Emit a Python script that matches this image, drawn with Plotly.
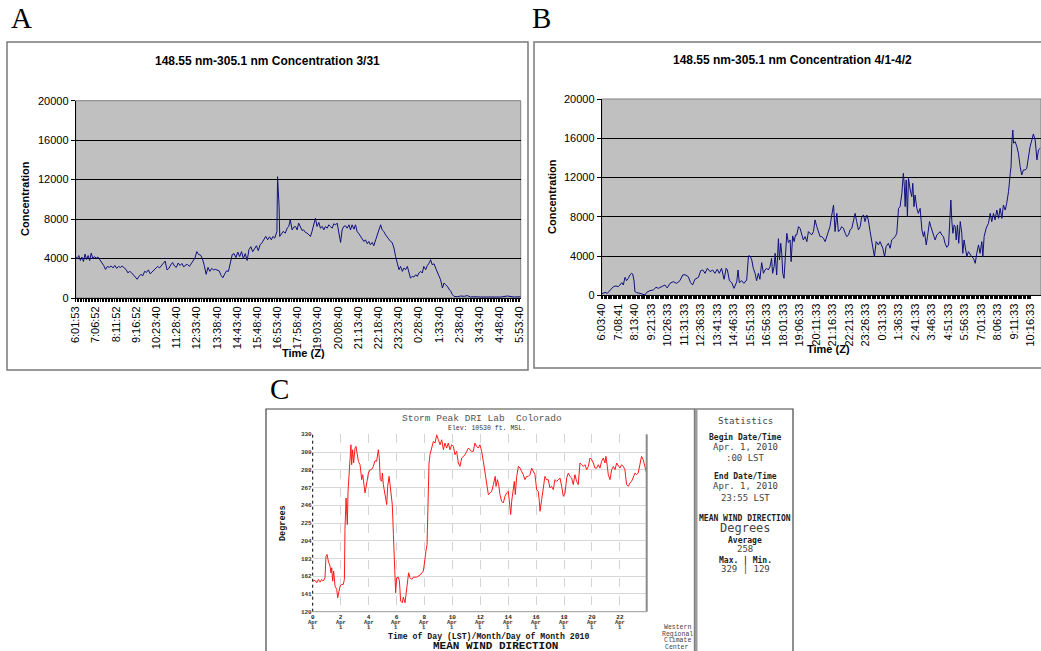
import plotly.graph_objects as go

W, H = 1041, 651
OFF = 0  # page margin is removed below, so figure pixels == window pixels

# ---------------- Panel A data (minutes after 6:01:53, concentration) ----------------
a_min = [0, 5, 10, 15, 20, 25, 30, 35, 40, 45, 50, 55, 60, 66, 72, 78, 84, 90, 96, 102, 108, 114, 120, 126,
         132, 138, 144, 150, 156, 162, 168, 174, 180, 186, 192, 198, 204, 210, 216, 222, 228, 234, 240, 246,
         252, 258, 264, 270, 276, 282, 288, 294, 300, 306, 312, 318, 324, 330, 336, 342, 348, 354, 360, 366,
         372, 378, 384, 390, 396, 402, 408, 414, 420, 426, 432, 438, 444, 450, 456, 462, 468, 474, 480, 486,
         492, 498, 504, 510, 516, 522, 528, 534, 540, 546, 552, 558, 564, 570, 576, 582, 588, 594, 600, 606,
         612, 618, 624, 630, 635, 641, 646, 648, 650, 653, 655, 657, 661, 668, 675, 681, 686, 691, 697, 702,
         708, 713, 718, 724, 729, 734, 740, 745, 751, 756, 761, 767, 772, 777, 783, 788, 794, 799, 804, 810,
         815, 820, 826, 831, 837, 842, 847, 853, 858, 863, 869, 874, 880, 885, 890, 896, 901, 906, 912, 917,
         923, 928, 933, 939, 944, 949, 955, 960, 966, 971, 976, 982, 987, 992, 998, 1003, 1009, 1014, 1019,
         1025, 1030, 1035, 1041, 1046, 1052, 1057, 1062, 1068, 1073, 1078, 1084, 1089, 1095, 1100, 1105, 1111,
         1116, 1121, 1127, 1132, 1138, 1143, 1148, 1154, 1159, 1164, 1170, 1175, 1181, 1186, 1191, 1197, 1202,
         1208, 1213, 1218, 1229, 1240, 1251, 1261, 1272, 1283, 1304, 1326, 1347, 1369, 1390, 1412, 1433]
a_val = [4200, 3950, 4300, 3800, 4150, 3700, 4450, 3900, 4300, 3800, 4550, 4000, 4200, 4050, 4150, 3900, 3550,
         3300, 2900, 3200, 3100, 3250, 3050, 3300, 3000, 3200, 3100, 3250, 3050, 2900, 2550, 2700, 2550, 2300,
         2100, 1900, 2200, 2400, 2250, 2700, 2600, 2850, 2450, 2650, 2800, 3100, 3200, 3050, 3300, 3600, 3750,
         2850, 3000, 3350, 3600, 3250, 3100, 3550, 3300, 3500, 3150, 3350, 3400, 3200, 3500, 3850, 4050, 4700,
         4400, 4350, 4000, 3300, 2400, 3100, 2700, 3000, 2850, 2900, 2800, 2750, 2300, 2050, 2450, 2750, 2700,
         3700, 4400, 4500, 4100, 4650, 4200, 4700, 4000, 4500, 3800, 4900, 5200, 4700, 5000, 5300, 4800, 5400,
         5600, 6000, 6250, 5900, 6200, 5900, 6240, 6070, 6580, 6750, 12300, 10960, 9280, 6240, 6400, 6750, 6580,
         7080, 7250, 7930, 6900, 7180, 7250, 6900, 7590, 7080, 6850, 6900, 6640, 6580, 6400, 6240, 6750, 7420,
         8100, 7250, 7660, 7080, 7250, 6900, 7250, 7080, 7420, 7250, 7080, 7520, 7420, 7590, 6750, 5630, 6900,
         7250, 7320, 7080, 7420, 6900, 7420, 6980, 7420, 6750, 6510, 6240, 5970, 5730, 5900, 5500, 5730, 5400,
         5630, 5300, 5900, 6400, 6750, 7420, 6900, 6750, 6400, 6170, 5900, 5730, 5630, 5060, 4220, 3710, 2870,
         3200, 2700, 3040, 2870, 3200, 2530, 2020, 2190, 2125, 2360, 2190, 2530, 2700, 2530, 3200, 2870, 3270,
         3540, 3880, 3370, 3470, 3040, 2700, 2360, 1850, 1010, 1520, 1350, 1180, 910, 670, 340, 170, 130, 200,
         170, 240, 100, 130, 100, 100, 170, 100, 200, 100, 130]
a_labels = ["6:01:53", "7:06:52", "8:11:52", "9:16:52", "10:23:40", "11:28:40", "12:33:40", "13:38:40",
            "14:43:40", "15:48:40", "16:53:40", "17:58:40", "19:03:40", "20:08:40", "21:13:40", "22:18:40",
            "23:23:40", "0:28:40", "1:33:40", "2:38:40", "3:43:40", "4:48:40", "5:53:40"]

# ---------------- Panel B data (minutes after 6:03:40, concentration) ----------------
b_min = [0, 13, 22, 33, 46, 56, 65, 72, 79, 85, 92, 98, 105, 111, 118, 122, 127, 131, 138, 151, 164, 170, 177,
         190, 203, 214, 223, 236, 249, 258, 269, 282, 295, 308, 319, 328, 341, 350, 358, 367, 381, 390, 398,
         407, 416, 427, 437, 446, 455, 463, 472, 482, 490, 495, 503, 512, 521, 532, 537, 542, 551, 560, 571,
         578, 584, 591, 597, 604, 610, 617, 623, 630, 637, 643, 650, 656, 663, 669, 673, 679, 683, 689, 692,
         696, 700, 705, 709, 713, 718, 722, 729, 735, 742, 746, 752, 758, 763, 768, 775, 781, 788, 794, 801,
         808, 814, 821, 827, 834, 840, 847, 854, 860, 867, 873, 880, 886, 893, 899, 906, 913, 919, 926, 932,
         939, 945, 952, 959, 965, 972, 978, 985, 991, 998, 1004, 1011, 1018, 1024, 1031, 1037, 1044, 1050,
         1057, 1064, 1070, 1074, 1081, 1090, 1096, 1107, 1114, 1120, 1129, 1136, 1142, 1149, 1156, 1162, 1169,
         1175, 1182, 1188, 1192, 1195, 1199, 1204, 1208, 1215, 1221, 1225, 1230, 1234, 1241, 1247, 1254, 1261,
         1267, 1271, 1278, 1283, 1291, 1296, 1304, 1313, 1320, 1326, 1333, 1339, 1346, 1352, 1359, 1366, 1370,
         1375, 1379, 1383, 1388, 1392, 1396, 1401, 1406, 1412, 1418, 1422, 1427, 1433, 1438, 1444, 1451, 1457,
         1464, 1471, 1477, 1484, 1490, 1497, 1501, 1506, 1514, 1523, 1530, 1536, 1543, 1549, 1556, 1563, 1569,
         1576, 1582, 1589, 1595, 1602, 1609, 1612, 1615, 1619, 1622, 1628, 1635, 1641, 1648, 1654, 1661, 1668,
         1674, 1681, 1687, 1694, 1700, 1707, 1711, 1714, 1720, 1727]
b_val = [150, 300, 200, 475, 880, 950, 880, 1050, 1290, 1050, 1830, 1490, 1730, 2070, 2240, 2170, 1560, 370, 270,
         200, 135, 35, 300, 475, 540, 815, 710, 880, 1050, 750, 1220, 1390, 1220, 1490, 2070, 2100, 1900, 1290,
         1050, 1630, 1830, 2510, 2580, 2240, 2750, 2410, 2580, 2240, 2650, 2240, 2750, 1630, 2750, 2580, 1490,
         1290, 710, 1390, 2580, 1290, 1490, 1220, 1560, 4010, 4010, 3600, 2750, 2240, 1490, 2240, 1630, 3330,
         2240, 2580, 2750, 2580, 2920, 3770, 2240, 2920, 4280, 2070, 4280, 5770, 3600, 5300, 4280, 2240, 1730,
         3600, 6320, 5370, 5640, 3430, 6050, 5470, 6150, 6150, 7000, 6830, 6150, 5640, 5980, 5470, 6490, 6320,
         6150, 6490, 7680, 7000, 6490, 5980, 5980, 5810, 5470, 5980, 6660, 7000, 8180, 9200, 6490, 8350, 6490,
         6660, 7000, 6830, 6320, 5980, 6150, 6660, 6830, 7510, 8350, 7510, 6660, 7000, 8010, 8180, 7510, 8180,
         7680, 6490, 5470, 4790, 3940, 5470, 5130, 5470, 4790, 3940, 4960, 5300, 4790, 5640, 5810, 5980, 6320,
         8860, 9030, 10390, 12430, 11070, 9030, 11750, 8010, 11920, 10730, 10050, 11410, 9030, 10220, 8860, 8350,
         8860, 6660, 5980, 6490, 5130, 5980, 7510, 7000, 6320, 5640, 6150, 6320, 6490, 6150, 5980, 5300, 4890,
         5130, 7000, 9710, 7510, 6320, 7170, 7000, 5640, 7170, 5300, 7510, 6320, 4280, 5640, 4450, 3940, 4450,
         4110, 3940, 3770, 3260, 4280, 5130, 4280, 5470, 3940, 5980, 6830, 7340, 8350, 7510, 8350, 7680, 8690,
         7840, 8860, 7840, 9200, 8690, 9370, 10560, 12430, 13110, 15490, 16840, 15490, 15660, 15150, 14470,
         13110, 12260, 12770, 12770, 12940, 14130, 15150, 15830, 16440, 15830, 14810, 13790, 14810, 14980]
b_labels = ["6:03:40", "7:08:41", "8:13:40", "9:21:33", "10:26:33", "11:31:33", "12:36:33", "13:41:33",
            "14:46:33", "15:51:33", "16:56:33", "18:01:33", "19:06:33", "20:11:33", "21:16:33", "22:21:33",
            "23:26:33", "0:31:33", "1:36:33", "2:41:33", "3:46:33", "4:51:33", "5:56:33", "7:01:33",
            "8:06:33", "9:11:33", "10:16:33"]

# ---------------- Panel C data (hour of day, wind direction in degrees) ----------------
c_hour = [0.00, 0.17, 0.29, 0.41, 0.53, 0.64, 0.76, 0.88, 0.95, 1.03, 1.12, 1.24, 1.31, 1.36, 1.43, 1.50, 1.60,
          1.72, 1.79, 1.86, 1.96, 2.07, 2.19, 2.27, 2.31, 2.39, 2.43, 2.48, 2.53, 2.60, 2.67, 2.74, 2.79, 2.86,
          2.93, 3.03, 3.10, 3.17, 3.27, 3.39, 3.51, 3.58, 3.65, 3.75, 3.87, 3.99, 4.11, 4.22, 4.34, 4.46, 4.58,
          4.70, 4.77, 4.84, 4.94, 4.99, 5.06, 5.13, 5.23, 5.30, 5.37, 5.47, 5.54, 5.61, 5.70, 5.78, 5.85, 5.89,
          5.94, 6.01, 6.13, 6.21, 6.30, 6.42, 6.49, 6.61, 6.71, 6.80, 6.87, 6.97, 7.09, 7.21, 7.45, 7.68, 7.92,
          7.99, 8.04, 8.11, 8.19, 8.26, 8.33, 8.40, 8.52, 8.64, 8.76, 8.88, 9.00, 9.12, 9.24, 9.36, 9.47, 9.59,
          9.71, 9.83, 9.95, 10.07, 10.19, 10.31, 10.43, 10.55, 10.67, 10.79, 10.91, 11.03, 11.15, 11.26, 11.38,
          11.50, 11.62, 11.74, 11.86, 11.98, 12.10, 12.22, 12.34, 12.46, 12.58, 12.70, 12.82, 12.94, 13.07,
          13.13, 13.23, 13.32, 13.41, 13.53, 13.65, 13.77, 13.89, 14.01, 14.08, 14.18, 14.25, 14.37, 14.44,
          14.51, 14.61, 14.73, 14.85, 14.96, 15.08, 15.20, 15.32, 15.44, 15.56, 15.68, 15.80, 15.92, 16.04,
          16.15, 16.23, 16.28, 16.40, 16.52, 16.63, 16.75, 16.87, 16.99, 17.11, 17.23, 17.35, 17.47, 17.59,
          17.71, 17.83, 17.95, 18.07, 18.19, 18.31, 18.42, 18.54, 18.66, 18.78, 18.90, 19.02, 19.14, 19.26,
          19.38, 19.50, 19.62, 19.74, 19.86, 19.98, 20.10, 20.21, 20.33, 20.45, 20.57, 20.69, 20.81, 20.93,
          21.00, 21.10, 21.17, 21.29, 21.41, 21.53, 21.65, 21.77, 21.89, 22.00, 22.12, 22.24, 22.36, 22.48,
          22.60, 22.72, 22.84, 22.96, 23.08, 23.19, 23.31, 23.43, 23.55, 23.67, 23.79, 23.91]
c_deg = [156.2, 157, 154.3, 158.2, 155, 158.2, 156.2, 160.2, 185.7, 187.7, 179.8, 173.9, 166, 172, 156.2, 168,
         150.3, 146.4, 136.5, 144.4, 150.3, 152.3, 152.3, 158.2, 217.2, 254.6, 238.9, 223.1, 262.5, 282.2, 303.9,
         317.6, 294, 311.7, 296, 313.7, 315.7, 305.8, 298, 294, 276.3, 282.2, 270.4, 260.6, 272.4, 284.2, 288.1,
         288.1, 292, 298.7, 298, 311.7, 301.9, 276.3, 274.3, 284.2, 270.4, 264.5, 254.6, 246.8, 268.4, 280.2,
         270.4, 258.6, 246.8, 211.3, 185.7, 168, 142.4, 160.2, 160.9, 156.2, 132.6, 130.6, 137.3, 130.6, 146.4,
         152.3, 166.1, 160.2, 158.2, 160.9, 160.9, 163.3, 168, 175.9, 187.7, 191.7, 199.5, 246.8, 296, 305.8,
         315.7, 321.6, 319.6, 329.4, 323.5, 317.6, 323.5, 311.7, 319.6, 313.7, 319.6, 311.7, 317.6, 315.7, 305.8,
         309.8, 296, 292, 301.9, 303.9, 305.8, 309.8, 313.7, 311.7, 309.8, 309.8, 319.6, 315.7, 313.7, 317.6,
         309.8, 298, 284.2, 266.5, 258.6, 260.6, 262.5, 270.4, 280.2, 268.4, 276.3, 270.4, 258.6, 250.7, 248.7,
         256.6, 260.6, 262.5, 252.7, 235, 250.7, 270.4, 274.3, 258.6, 280.2, 292, 290, 286.1, 282.2, 276.3,
         280.2, 280.2, 282.2, 290, 286.1, 282.2, 264.5, 262.5, 250.7, 238.9, 252.7, 268.4, 280.2, 276.3, 276.3,
         266.5, 268.4, 264.5, 276.3, 274.3, 276.3, 278.3, 268.4, 256.6, 260.6, 278.3, 284.2, 280.2, 278.3,
         270.4, 282.2, 274.3, 270.4, 296, 294, 292, 294, 288.1, 292, 301.9, 299.9, 296, 290, 290, 294, 290, 298,
         301.9, 296, 303.9, 292, 282.2, 276.3, 288.1, 292, 288.1, 296, 292, 290, 294, 292, 288.1, 270.4, 268.4,
         272.4, 274.3, 278.3, 284.2, 282.2, 284.2, 294, 303.9, 299.9, 292, 284.2]
c_tick_hours = [0, 2, 4, 6, 8, 10, 12, 14, 16, 18, 20, 22]
c_deg_ticks = [120, 141, 162, 183, 204, 225, 246, 267, 288, 309, 330]
conc_ticks = [0, 4000, 8000, 12000, 16000, 20000]
stats_lines = [("Statistics", False, 9.2), ("Begin Date/Time", True, 8), ("Apr. 1, 2010", False, 9),
               (":00 LST", False, 9), ("End Date/Time", True, 8), ("Apr. 1, 2010", False, 9),
               ("23:55 LST", False, 9), ("MEAN WIND DIRECTION", True, 8), ("Degrees", False, 12),
               ("Average", True, 8), ("258", False, 9), ("Max. | Min.", True, 8), ("329 | 129", False, 9)]
stats_y = [420, 437, 447, 458, 476, 486, 498, 518, 528, 540, 549, 560, 569]


def px(x):
    return (x - OFF) / W


def py(y):
    return 1 - (y - OFF) / H


SANS = "Liberation Sans"
MONO = "Liberation Mono"
SMONO = "DejaVu Sans Mono"

fig = go.Figure()
fig.add_trace(go.Scatter(x=a_min, y=a_val, mode="lines", line=dict(color="#10107f", width=1),
                         xaxis="x", yaxis="y", showlegend=False, hoverinfo="skip"))
fig.add_trace(go.Scatter(x=b_min, y=b_val, mode="lines", line=dict(color="#10107f", width=1),
                         xaxis="x2", yaxis="y2", showlegend=False, hoverinfo="skip"))
fig.add_trace(go.Scatter(x=c_hour, y=c_deg, mode="lines", line=dict(color="#ff1a1a", width=1),
                         xaxis="x3", yaxis="y3", showlegend=False, hoverinfo="skip"))


def dense_ticks(labels):
    vals, texts = [], []
    for i in range(len(labels) * 13 - 12):
        vals.append(i * 5)
        texts.append(labels[i // 13] if i % 13 == 0 else "")
    return vals, texts


a_tv, a_tt = dense_ticks(a_labels)
b_tv, b_tt = dense_ticks(b_labels)

xcommon = dict(tickmode="array", tickangle=-90, ticks="outside", ticklen=3, tickcolor="black", tickwidth=1,
               showgrid=False, zeroline=False, showline=True, linecolor="black", linewidth=1,
               automargin=False, tickfont=dict(family=SANS, size=11, color="black"))
ycommon = dict(tickmode="array", tickvals=conc_ticks, ticktext=[str(v) for v in conc_ticks],
               ticks="outside", ticklen=4, tickcolor="black",
               showgrid=True, gridcolor="black", gridwidth=1, zeroline=False, showline=True,
               linecolor="black", linewidth=1, range=[0, 20000], automargin=False,
               tickfont=dict(family=SANS, size=11, color="black"))

fig.update_layout(
    width=W, height=H, margin=dict(l=0, r=0, t=0, b=0, pad=0, autoexpand=False),
    paper_bgcolor="white", plot_bgcolor="white", showlegend=False,
    xaxis=dict(xcommon, domain=[px(75.7), px(520.7)], range=[0, 1433], tickvals=a_tv, ticktext=a_tt,
               anchor="y"),
    yaxis=dict(ycommon, domain=[py(298), py(100.7)], anchor="x"),
    xaxis2=dict(xcommon, domain=[px(601.7), px(1041)], range=[0, 1730], tickvals=b_tv, ticktext=b_tt,
                anchor="y2"),
    yaxis2=dict(ycommon, domain=[py(295.3), py(99)], anchor="x2"),
    xaxis3=dict(domain=[px(312.7), px(646.7)], range=[0, 23.92], anchor="y3", tickmode="array",
                tickvals=c_tick_hours, ticktext=["<b>%d</b>" % h for h in c_tick_hours],
                ticks="", showgrid=True, gridcolor="#d4d4d4", griddash="dash", gridwidth=1,
                zeroline=False, showline=False, automargin=False,
                tickfont=dict(family=MONO, size=6, color="#222")),
    yaxis3=dict(domain=[py(611.7), py(434.3)], range=[120, 330], anchor="x3", tickmode="array",
                tickvals=c_deg_ticks, ticktext=["<b>%d</b>" % v for v in c_deg_ticks], ticks="",
                showgrid=True, gridcolor="#d8d8d8", gridwidth=1.3,
                zeroline=False, showline=False, automargin=False,
                tickfont=dict(family=MONO, size=6, color="#333")),
)

shapes = []
# gray plotting backgrounds for A and B
for xr, yr in (("x domain", "y domain"), ("x2 domain", "y2 domain")):
    shapes.append(dict(type="rect", xref=xr, yref=yr, x0=0, x1=1, y0=0, y1=1, fillcolor="#c0c0c0",
                       line=dict(width=0), layer="below"))
    shapes.append(dict(type="rect", xref=xr, yref=yr, x0=0, x1=1, y0=0, y1=1,
                       line=dict(color="#808080", width=1), layer="below"))
# panel frames
frame = dict(type="rect", xref="paper", yref="paper", line=dict(color="#7a7a7a", width=1.5))
shapes.append(dict(frame, x0=px(7), x1=px(528), y0=py(370), y1=py(42)))
shapes.append(dict(frame, x0=px(534), x1=px(1060), y0=py(368), y1=py(42)))
shapes.append(dict(frame, x0=px(266), x1=px(793), y0=py(670), y1=py(409), line=dict(color="#444", width=1.2)))
# stats divider
shapes.append(dict(type="line", xref="paper", yref="paper", x0=px(696), x1=px(696), y0=-0.05, y1=py(409),
                   line=dict(color="#9a9a9a", width=3)))
shapes.append(dict(type="line", xref="paper", yref="paper", x0=px(694.3), x1=px(694.3), y0=-0.05, y1=py(409),
                   line=dict(color="#555", width=0.8)))
# C axes: dashed left axis, right border, bottom line
shapes.append(dict(type="line", xref="x3 domain", yref="y3 domain", x0=0, x1=0, y0=0, y1=1,
                   line=dict(color="black", width=1, dash="dot")))
shapes.append(dict(type="line", xref="x3 domain", yref="y3 domain", x0=1, x1=1, y0=0, y1=1,
                   line=dict(color="#8a8a8a", width=2)))
shapes.append(dict(type="line", xref="x3 domain", yref="y3 domain", x0=0, x1=1, y0=0, y1=0,
                   line=dict(color="#9a9a9a", width=1)))
fig.update_layout(shapes=shapes)

anns = []


def ann(text, x, y, size, family=SANS, color="black", angle=0, xanchor="center"):
    anns.append(dict(text=text, x=px(x), y=py(y), xref="paper", yref="paper", showarrow=False,
                     xanchor=xanchor, yanchor="middle", textangle=angle,
                     font=dict(family=family, size=size, color=color)))


SERIF = "Liberation Serif"
ann("A", 21, 18, 29, SERIF)
ann("B", 541, 18, 29, SERIF)
ann("C", 279, 389, 29, SERIF)

ann("<b>148.55 nm-305.1 nm Concentration 3/31</b>", 267, 61.5, 12)
ann("<b>148.55 nm-305.1 nm Concentration 4/1-4/2</b>", 792, 60, 12)
ann("<b>Concentration</b>", 25, 199, 11, angle=-90)
ann("<b>Concentration</b>", 552, 197, 11, angle=-90)
ann("<b>Time (Z)</b>", 303, 352.5, 11)
ann("<b>Time (Z)</b>", 828, 349.5, 11)

ann("Storm Peak DRI Lab  Colorado", 482, 419, 9.5, MONO, "#555")
ann("Elev: 10530 ft. MSL.", 487, 428, 6.5, MONO, "#333")
ann("<b>Degrees</b>", 283, 523, 8.5, MONO, "#111", angle=-90)
ann("<b>Time of Day (LST)/Month/Day of Month 2010</b>", 489, 636, 8.2, MONO, "#111")
ann("<b>MEAN WIND DIRECTION</b>", 495, 645.5, 11, MONO, "#111")
for i, w in enumerate(["Western", "Regional", "Climate", "Center"]):
    ann(w, 677, 627.5 + i * 6.5, 6.5, MONO, "#444")

# month / day lines under the C hour ticks
for h in c_tick_hours:
    for txt, yy in (("<b>Apr</b>", 622), ("<b>1</b>", 627.5)):
        anns.append(dict(text=txt, x=h, xref="x3", y=py(yy), yref="paper", showarrow=False,
                         xanchor="center", yanchor="middle", font=dict(family=MONO, size=5.5, color="#333")))

for (txt, bold, size), yy in zip(stats_lines, stats_y):
    ann("<b>%s</b>" % txt if bold else txt, 745, yy, size, SMONO, "#222" if bold else "#444")

fig.update_layout(annotations=anns)
fig.write_html("out.html", config={"displayModeBar": False},
               post_script="document.body.style.margin='0px';document.body.style.overflow='hidden';")
